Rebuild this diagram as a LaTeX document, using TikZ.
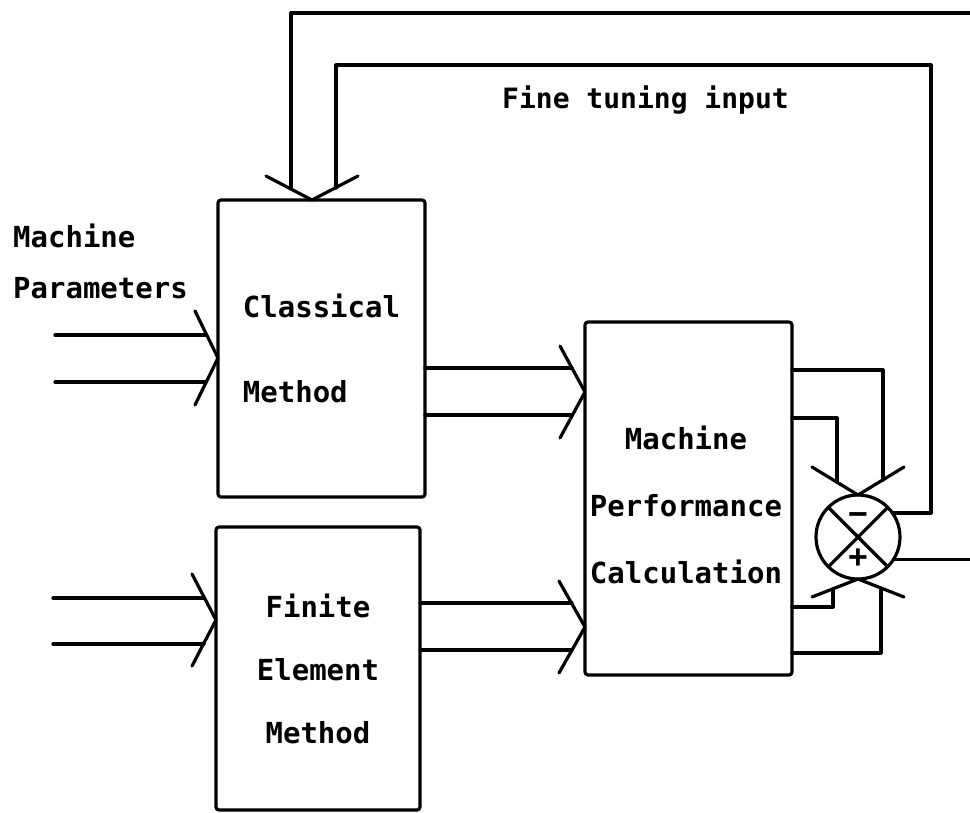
\documentclass[tikz,border=0pt]{standalone}
\usepackage{fontspec}
\usepackage{tikz}
\usetikzlibrary{positioning, shapes.geometric}
\newfontfamily\plotfont{DejaVu Sans Mono}
\definecolor{pfInk}{HTML}{000000}

\tikzset{
  pfLine/.style={draw=pfInk, line width=3.2pt, line cap=round, line join=round},
  pfBlock/.style={pfLine, rounded corners=3pt, outer sep=0pt, inner sep=0pt},
  pfText/.style={text=pfInk, inner sep=0pt, font=\plotfont\bfseries\fontsize{29pt}{51pt}\selectfont},
}

\begin{document}
\begin{tikzpicture}[x=1pt, y=-1pt]
  \useasboundingbox (0,0) rectangle (970,812);

  % blocks
  \node[pfBlock, minimum width=207pt, minimum height=297pt, align=left,
        font=\plotfont\bfseries\fontsize{29pt}{85pt}\selectfont] (cm) at (321.5,348.5) {Classical\\Method};
  \node[pfBlock, minimum width=204pt, minimum height=283pt, align=center,
        font=\plotfont\bfseries\fontsize{29pt}{63pt}\selectfont] (fem) at (318,668.5) {Finite\\Element\\Method};
  \node[pfBlock, minimum width=207pt, minimum height=353pt] (mpc) at (688.5,498.5) {};
  \node[pfText, align=center, font=\plotfont\bfseries\fontsize{29pt}{67pt}\selectfont]
        (mpctext) at (686,505) {Machine\\Performance\\Calculation};
  \node[pfLine, circle, minimum size=84pt, inner sep=0pt, outer sep=0pt] (sum) at (858,537) {};
  \draw[pfLine] (sum.north west) -- (sum.south east);
  \draw[pfLine] (sum.north east) -- (sum.south west);
  \node[pfText, font=\plotfont\bfseries\fontsize{32pt}{32pt}\selectfont] (minus) at (858,519) {−};
  \node[pfText, font=\plotfont\bfseries\fontsize{32pt}{32pt}\selectfont] (plus) at (858,558) {+};

  % labels
  \node[pfText, anchor=north west, align=left] (params) at (13,224) {Machine\\Parameters};
  \node[pfText, anchor=base west, font=\plotfont\bfseries\fontsize{28pt}{28pt}\selectfont] (tune) at (502,108) {Fine tuning input};

  % chevron tips
  \coordinate (cmin) at (218,358);
  \coordinate (femin) at (216,620);
  \coordinate (mpcin1) at (585,392);
  \coordinate (mpcin2) at (585,627);
  \coordinate (cmtop) at (312,200);
  \draw[pfLine] (cmin) ++(-23,-47) -- (cmin) -- ++(-23,47);
  \draw[pfLine] (femin) ++(-24,-46) -- (femin) -- ++(-24,46);
  \draw[pfLine] (mpcin1) ++(-25,-46) -- (mpcin1) -- ++(-25,46);
  \draw[pfLine] (mpcin2) ++(-26,-46) -- (mpcin2) -- ++(-26,46);
  \draw[pfLine] (cmtop) ++(-46,-24) -- (cmtop) -- ++(46,-24);
  \draw[pfLine] (sum.north) ++(-46,-28) -- (sum.north) -- ++(46,-28);
  \draw[pfLine] (sum.south) ++(-46,18) -- (sum.south) -- ++(46,18);

  % inputs
  \coordinate (par1) at (55,335);
  \coordinate (par2) at (55,382);
  \coordinate (fe1) at (53,598);
  \coordinate (fe2) at (53,644);
  \draw[pfLine, shorten >=12pt] (par1) -- (par1 -| cm.west);
  \draw[pfLine, shorten >=12pt] (par2) -- (par2 -| cm.west);
  \draw[pfLine, shorten >=12pt] (fe1) -- (fe1 -| fem.west);
  \draw[pfLine, shorten >=12pt] (fe2) -- (fe2 -| fem.west);

  % block to block
  \draw[pfLine, shorten >=13pt] (cm.east |- 0,368) -- (mpc.west |- 0,368);
  \draw[pfLine, shorten >=13pt] (cm.east |- 0,415) -- (mpc.west |- 0,415);
  \draw[pfLine, shorten >=13pt] (fem.east |- 0,603) -- (mpc.west |- 0,603);
  \draw[pfLine, shorten >=13pt] (fem.east |- 0,650) -- (mpc.west |- 0,650);

  % to the comparator
  \coordinate (mA) at (883,480);
  \coordinate (mB) at (837,482);
  \coordinate (mC) at (833,589);
  \coordinate (mD) at (881,588);
  \draw[pfLine] (mpc.east |- 0,370) -| (mA);
  \draw[pfLine] (mpc.east |- 0,418) -| (mB);
  \draw[pfLine] (mpc.east |- 0,607) -| (mC);
  \draw[pfLine] (mpc.east |- 0,653) -| (mD);

  % feedback and output
  \coordinate (fbA) at (291,189);
  \coordinate (fbB) at (336,188);
  \coordinate (fbout) at (970,13);
  \coordinate (res) at (970,560);
  \draw[pfLine] (sum.35) -| (931,65) -| (fbB);
  \draw[pfLine] (fbout) -| (fbA);
  \draw[pfLine] (sum.-33) -- (sum.-33 -| res);
\end{tikzpicture}
\end{document}
